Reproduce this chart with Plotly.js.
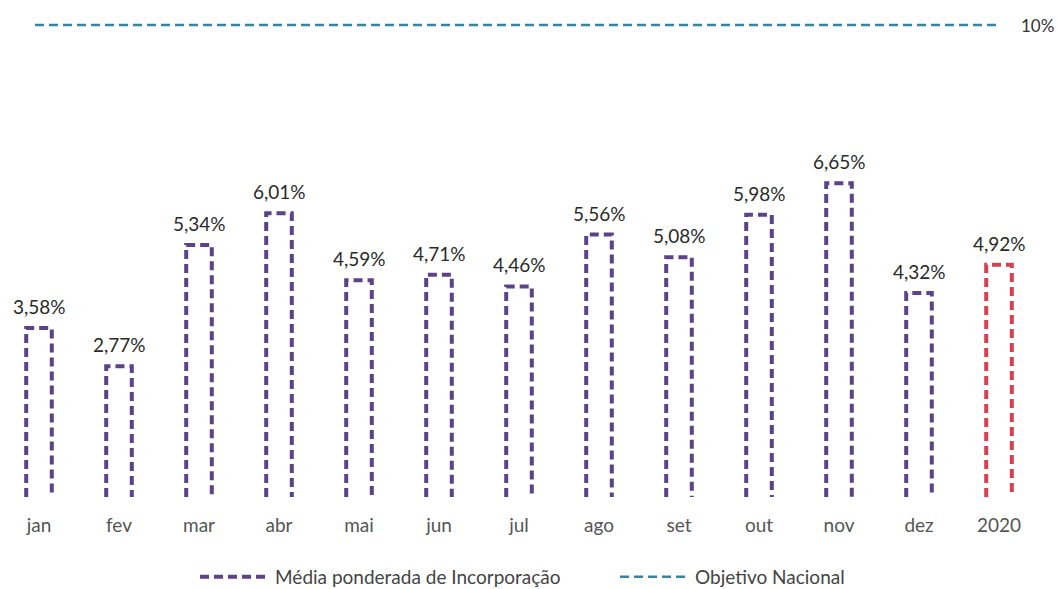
<!DOCTYPE html>
<html><head><meta charset="utf-8">
<script src="https://cdn.plot.ly/plotly-3.0.1.min.js"></script>
<style>html,body{margin:0;padding:0;background:#fff}#c{width:1057px;height:589px}</style>
</head><body><div id="c"></div>
<script>
const months = ['jan','fev','mar','abr','mai','jun','jul','ago','set','out','nov','dez','2020'];
const values = [3.58, 2.77, 5.34, 6.01, 4.59, 4.71, 4.46, 5.56, 5.08, 5.98, 6.65, 4.32, 4.92];
const objective = 10;
const seriesName = 'Média ponderada de Incorporação';
const objectiveName = 'Objetivo Nacional';

const purple = '#5c4387', red = '#d8404f', teal = '#3584a0';
const hw = 0.16;
const px = [], py = [], rx = [], ry = [];
values.forEach((v, i) => {
  const xs = [i - hw, i - hw, i + hw, i + hw];
  const ys = [0, v, v, 0];
  if (i === values.length - 1) { rx.push(...xs); ry.push(...ys); }
  else { px.push(...xs, null); py.push(...ys, null); }
});
const idx = months.map((m, i) => i);
const traces = [
  {x: px, y: py, type: 'scatter', mode: 'lines', name: seriesName, connectgaps: false,
   line: {color: purple, width: 4, dash: '9px,5px'}, hoverinfo: 'skip'},
  {x: rx, y: ry, type: 'scatter', mode: 'lines', showlegend: false,
   line: {color: red, width: 4, dash: '9px,5px'}, hoverinfo: 'skip'},
  {x: [-0.05, 12.0], y: [objective, objective], type: 'scatter', mode: 'lines', name: objectiveName,
   line: {color: teal, width: 2.5, dash: '9px,5px'}}
];
const ann = values.map((v, i) => ({
  x: i, y: v, xref: 'x', yref: 'y', text: v.toFixed(2).replace('.', ',') + '%',
  showarrow: false, yanchor: 'bottom', yshift: 8,
  font: {family: 'Lato, sans-serif', size: 19, color: '#2a2a2a'}
}));
ann.push({x: 12.475, y: objective, xref: 'x', yref: 'y', text: objective + '%', showarrow: false,
  font: {family: 'Lato, sans-serif', size: 17, color: '#333'}});
const layout = {
  width: 1057, height: 589,
  margin: {l: 0, r: 17, t: 0, b: 92, autoexpand: false},
  paper_bgcolor: '#fff', plot_bgcolor: '#fff',
  xaxis: {range: [-0.4875, 12.5125], tickvals: idx, ticktext: months, showgrid: false, zeroline: false,
    showline: false, ticks: '', ticklabelstandoff: 15, automargin: false,
    tickfont: {family: 'Lato, sans-serif', size: 19, color: '#555'}},
  yaxis: {range: [0, 10.53], visible: false, showgrid: false, zeroline: false},
  showlegend: true,
  legend: {orientation: 'h', x: 0.1875, xanchor: 'left', y: -0.161, yanchor: 'middle',
    font: {family: 'Lato, sans-serif', size: 19, color: '#444'}, entrywidth: 335, itemwidth: 70},
  annotations: ann
};
Plotly.newPlot('c', traces, layout, {displayModeBar: false, staticPlot: true});
</script></body></html>
